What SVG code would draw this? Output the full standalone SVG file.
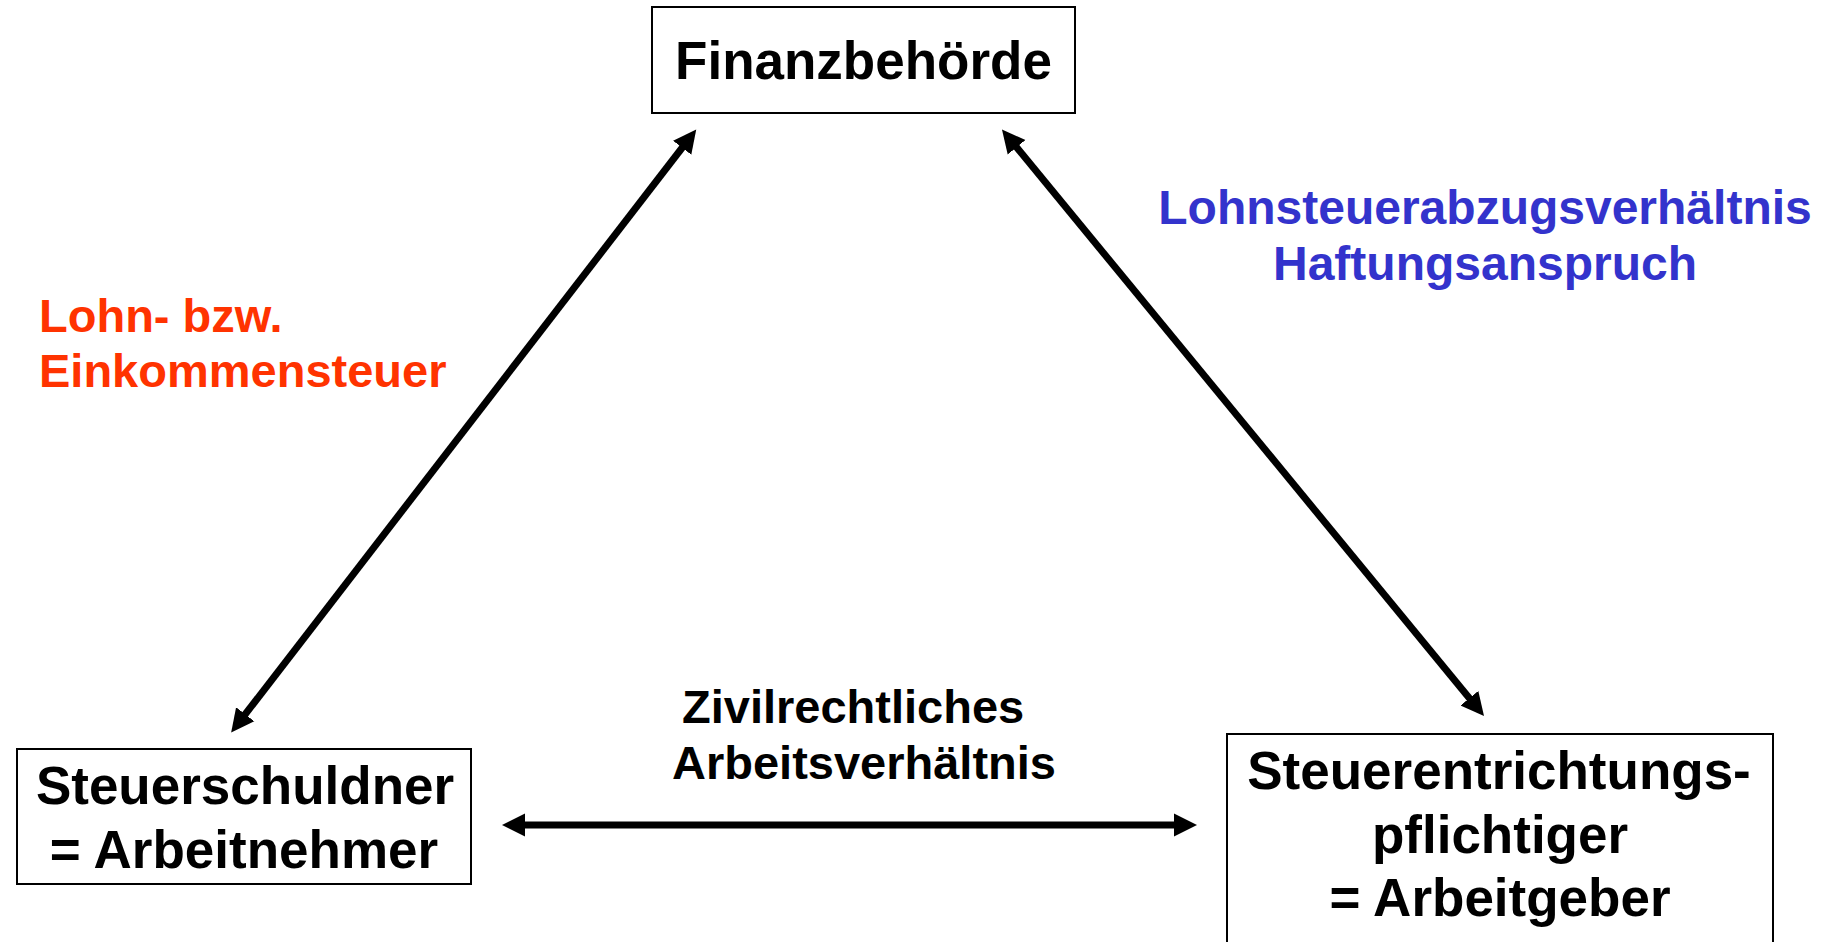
<svg xmlns="http://www.w3.org/2000/svg" width="1829" height="942" viewBox="0 0 1829 942">
<style>
.box{fill:#fff;stroke:#000;stroke-width:2}
.t{font-family:"Liberation Sans",Arial,sans-serif;font-weight:bold;fill:#000}
.big{font-size:53px}
.mid{font-size:47px}
.red{fill:#FF3300}
.blue{fill:#3333CC;font-size:48px}
.conn{stroke:#000;stroke-width:7;fill:none;marker-start:url(#ah);marker-end:url(#ah)}
</style>
<defs>
<marker id="ah" markerUnits="userSpaceOnUse" markerWidth="24" markerHeight="24" viewBox="0 0 24 24" refX="11" refY="12" orient="auto-start-reverse">
<path d="M0,0.5 L23,12 L0,23.5 Z" fill="#000"/>
</marker>
</defs>
<rect width="1829" height="942" fill="#fff"/>
<g id="connectors">
<line class="conn" x1="688.9" y1="139.0" x2="238.5" y2="723.0"/>
<line class="conn" x1="1009.6" y1="138.8" x2="1476.4" y2="706.7"/>
<line class="conn" x1="514" y1="825" x2="1185" y2="825"/>
</g>
<g id="finanzbehoerde">
<rect class="box" x="652" y="7" width="423" height="106"/>
<text class="t big" x="863.5" y="79" text-anchor="middle">Finanzbehörde</text>
</g>
<g id="steuerschuldner">
<rect class="box" x="17" y="749" width="454" height="135"/>
<text class="t big" x="245" y="804" text-anchor="middle">Steuerschuldner</text>
<text class="t big" x="244" y="868" text-anchor="middle">= Arbeitnehmer</text>
</g>
<g id="arbeitgeber">
<rect class="box" x="1227" y="734" width="546" height="230"/>
<text class="t big" x="1499" y="789" text-anchor="middle">Steuerentrichtungs-</text>
<text class="t big" x="1500" y="853" text-anchor="middle">pflichtiger</text>
<text class="t big" x="1500" y="916" text-anchor="middle">= Arbeitgeber</text>
</g>
<g id="label-lohnsteuer">
<text class="t mid red" x="39" y="332">Lohn- bzw.</text>
<text class="t mid red" x="39" y="387">Einkommensteuer</text>
</g>
<g id="label-abzug">
<text class="t blue" x="1485" y="224" text-anchor="middle">Lohnsteuerabzugsverhältnis</text>
<text class="t blue" x="1485" y="280" text-anchor="middle">Haftungsanspruch</text>
</g>
<g id="label-arbeitsverhaeltnis">
<text class="t mid" x="682" y="723">Zivilrechtliches</text>
<text class="t mid" x="672" y="779">Arbeitsverhältnis</text>
</g>
</svg>
